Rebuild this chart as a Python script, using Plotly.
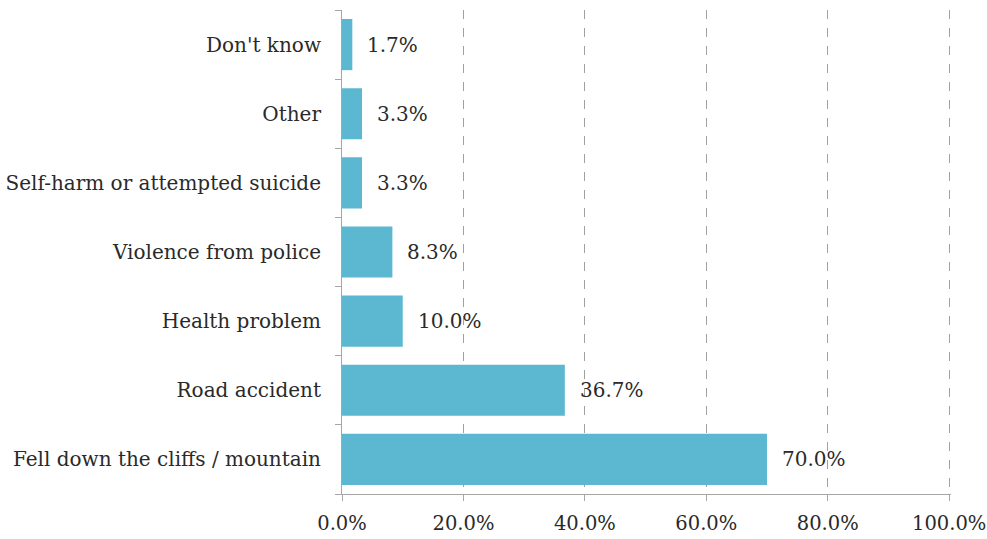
import plotly.graph_objects as go

categories = ["Fell down the cliffs / mountain", "Road accident", "Health problem",
              "Violence from police", "Self-harm or attempted suicide", "Other", "Don't know"]
values = [0.700, 0.367, 0.100, 0.083, 0.033, 0.033, 0.017]
labels = ["70.0%", "36.7%", "10.0%", "8.3%", "3.3%", "3.3%", "1.7%"]
x_ticks = [0.0, 0.2, 0.4, 0.6, 0.8, 1.0]
x_tick_labels = ["0.0%", "20.0%", "40.0%", "60.0%", "80.0%", "100.0%"]

FONT = "DejaVu Serif"
FS = 20
TXT = "#2a2a2a"
AX = "#a6a6a6"

fig = go.Figure(go.Bar(
    y=categories, x=values, orientation="h",
    marker=dict(color="#5bb8d0", line=dict(width=0)),
    width=0.74, hoverinfo="skip",
))

for c, v, t in zip(categories, values, labels):
    fig.add_annotation(x=v, y=c, text=t, showarrow=False, xanchor="left",
                       xshift=13, font=dict(family=FONT, size=FS, color=TXT))

fig.update_layout(
    width=987, height=539,
    margin=dict(l=342, r=36, t=10, b=45),
    paper_bgcolor="white", plot_bgcolor="white",
    showlegend=False,
    font=dict(family=FONT, size=FS, color=TXT),
)
fig.update_xaxes(
    range=[0, 1.003], tickvals=x_ticks, ticktext=x_tick_labels, automargin=False,
    showgrid=True, gridcolor="#a0a0a0", griddash="dash", gridwidth=1,
    zeroline=False, showline=True, linecolor=AX, linewidth=1,
    ticks="outside", ticklen=6, tickcolor=AX, ticklabelstandoff=6,
    ticklabeloverflow="allow",
    tickfont=dict(family=FONT, size=19.5, color=TXT),
)
fig.update_yaxes(
    type="category", range=[-0.5, 6.5], automargin=False,
    tickson="boundaries", ticks="outside", ticklen=6, tickcolor=AX,
    ticklabelstandoff=16,
    showline=True, linecolor=AX, linewidth=1, showgrid=False, zeroline=False,
    tickfont=dict(family=FONT, size=FS, color=TXT),
)

fig.write_html(
    "out.html",
    config={"displayModeBar": False},
    post_script="document.body.style.margin='0';document.body.style.overflow='hidden';",
)
